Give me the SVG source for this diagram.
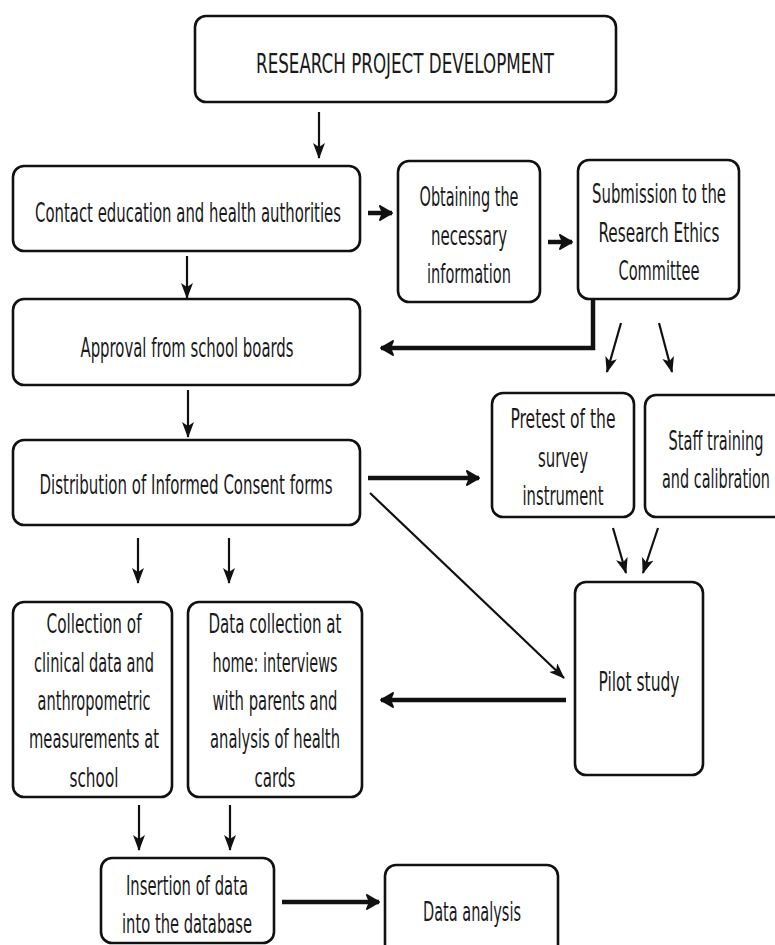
<svg xmlns="http://www.w3.org/2000/svg" width="775" height="945" viewBox="0 0 775 945">
<defs>
<style>
.box{fill:#fff;stroke:#111;stroke-width:2.6}
.t{font-family:"DejaVu Sans Condensed","DejaVu Sans","Liberation Sans",sans-serif;font-size:26px;fill:#1a1a1a;text-anchor:middle}
.thin{fill:none;stroke:#111;stroke-width:2.2}
.thick{fill:none;stroke:#111;stroke-width:4.5}
</style>
<marker id="ah" markerUnits="userSpaceOnUse" viewBox="0 0 16 12" refX="15" refY="6" markerWidth="16" markerHeight="12" orient="auto">
<path d="M0,0 L16,6 L0,12 L4,6 z" fill="#111"/>
</marker>
<marker id="ahb" markerUnits="userSpaceOnUse" viewBox="0 0 14 16" refX="13" refY="8" markerWidth="14" markerHeight="16" orient="auto">
<path d="M1,1 L13,8 L1,15 L4,8 z" fill="#111" stroke="#111" stroke-width="2" stroke-linejoin="round"/>
</marker>
</defs>
<rect width="775" height="945" fill="#fff"/>

<g id="connectors">
<line class="thin" x1="319" y1="112" x2="319" y2="158" marker-end="url(#ah)"/>
<line class="thick" x1="368" y1="213" x2="392" y2="213" marker-end="url(#ahb)"/>
<line class="thick" x1="548" y1="242" x2="572" y2="242" marker-end="url(#ahb)"/>
<line class="thin" x1="187" y1="256" x2="187" y2="298" marker-end="url(#ah)"/>
<path class="thick" d="M593,299 V348 H381" marker-end="url(#ahb)"/>
<line class="thin" x1="621" y1="323" x2="607" y2="372" marker-end="url(#ah)"/>
<line class="thin" x1="659" y1="323" x2="672" y2="372" marker-end="url(#ah)"/>
<line class="thin" x1="188" y1="390" x2="188" y2="437" marker-end="url(#ah)"/>
<line class="thick" x1="368" y1="478" x2="479" y2="478" marker-end="url(#ahb)"/>
<line class="thin" x1="370" y1="493" x2="564" y2="678" marker-end="url(#ah)" stroke-width="2.6"/>
<line class="thin" x1="613" y1="528" x2="626" y2="573" marker-end="url(#ah)"/>
<line class="thin" x1="658" y1="528" x2="643" y2="573" marker-end="url(#ah)"/>
<line class="thin" x1="138" y1="538" x2="138" y2="583" marker-end="url(#ah)"/>
<line class="thin" x1="229" y1="538" x2="229" y2="583" marker-end="url(#ah)"/>
<line class="thick" x1="566" y1="700" x2="381" y2="700" marker-end="url(#ahb)"/>
<line class="thin" x1="139" y1="805" x2="139" y2="850" marker-end="url(#ah)"/>
<line class="thin" x1="230" y1="805" x2="230" y2="850" marker-end="url(#ah)"/>
<line class="thick" x1="282" y1="902" x2="379" y2="902" marker-end="url(#ahb)"/>
</g>

<g id="n-research">
<rect class="box" x="195" y="16" width="421" height="86" rx="11"/>
<text class="t" x="405" y="73" textLength="298" lengthAdjust="spacingAndGlyphs">RESEARCH PROJECT DEVELOPMENT</text>
</g>
<g id="n-contact">
<rect class="box" x="13" y="166" width="347" height="85" rx="11"/>
<text class="t" x="188" y="222" textLength="306" lengthAdjust="spacingAndGlyphs">Contact education and health authorities</text>
</g>
<g id="n-obtaining">
<rect class="box" x="398" y="161" width="142" height="141" rx="11"/>
<text class="t" x="469" y="206" textLength="99" lengthAdjust="spacingAndGlyphs">Obtaining the</text>
<text class="t" x="469" y="245" textLength="76" lengthAdjust="spacingAndGlyphs">necessary</text>
<text class="t" x="469" y="283" textLength="84" lengthAdjust="spacingAndGlyphs">information</text>
</g>
<g id="n-submission">
<rect class="box" x="578" y="160" width="161" height="139" rx="11"/>
<text class="t" x="659" y="203" textLength="134" lengthAdjust="spacingAndGlyphs">Submission to the</text>
<text class="t" x="659" y="242" textLength="121" lengthAdjust="spacingAndGlyphs">Research Ethics</text>
<text class="t" x="659" y="280" textLength="81" lengthAdjust="spacingAndGlyphs">Committee</text>
</g>
<g id="n-approval">
<rect class="box" x="13" y="299" width="347" height="86" rx="11"/>
<text class="t" x="187" y="357" textLength="213" lengthAdjust="spacingAndGlyphs">Approval from school boards</text>
</g>
<g id="n-pretest">
<rect class="box" x="492" y="393" width="142" height="124" rx="11"/>
<text class="t" x="563" y="428" textLength="105" lengthAdjust="spacingAndGlyphs">Pretest of the</text>
<text class="t" x="563" y="467" textLength="50" lengthAdjust="spacingAndGlyphs">survey</text>
<text class="t" x="563" y="505" textLength="81" lengthAdjust="spacingAndGlyphs">instrument</text>
</g>
<g id="n-staff">
<rect class="box" x="645" y="395" width="145" height="122" rx="11"/>
<text class="t" x="716" y="450" textLength="95" lengthAdjust="spacingAndGlyphs">Staff training</text>
<text class="t" x="716" y="488" textLength="108" lengthAdjust="spacingAndGlyphs">and calibration</text>
</g>
<g id="n-distribution">
<rect class="box" x="13" y="440" width="347" height="85" rx="11"/>
<text class="t" x="186" y="494" textLength="293" lengthAdjust="spacingAndGlyphs">Distribution of Informed Consent forms</text>
</g>
<g id="n-collection">
<rect class="box" x="13" y="602" width="159" height="195" rx="11"/>
<text class="t" x="94" y="633" textLength="95" lengthAdjust="spacingAndGlyphs">Collection of</text>
<text class="t" x="94" y="672" textLength="120" lengthAdjust="spacingAndGlyphs">clinical data and</text>
<text class="t" x="94" y="710" textLength="113" lengthAdjust="spacingAndGlyphs">anthropometric</text>
<text class="t" x="94" y="748" textLength="130" lengthAdjust="spacingAndGlyphs">measurements at</text>
<text class="t" x="94" y="787" textLength="49" lengthAdjust="spacingAndGlyphs">school</text>
</g>
<g id="n-home">
<rect class="box" x="188" y="602" width="174" height="195" rx="11"/>
<text class="t" x="275" y="633" textLength="133" lengthAdjust="spacingAndGlyphs">Data collection at</text>
<text class="t" x="275" y="672" textLength="125" lengthAdjust="spacingAndGlyphs">home: interviews</text>
<text class="t" x="275" y="710" textLength="125" lengthAdjust="spacingAndGlyphs">with parents and</text>
<text class="t" x="275" y="748" textLength="130" lengthAdjust="spacingAndGlyphs">analysis of health</text>
<text class="t" x="275" y="787" textLength="41" lengthAdjust="spacingAndGlyphs">cards</text>
</g>
<g id="n-pilot">
<rect class="box" x="575" y="582" width="128" height="193" rx="11"/>
<text class="t" x="639" y="691" textLength="81" lengthAdjust="spacingAndGlyphs">Pilot study</text>
</g>
<g id="n-insertion">
<rect class="box" x="101" y="858" width="173" height="85" rx="11"/>
<text class="t" x="187" y="895" textLength="122" lengthAdjust="spacingAndGlyphs">Insertion of data</text>
<text class="t" x="187" y="933" textLength="130" lengthAdjust="spacingAndGlyphs">into the database</text>
</g>
<g id="n-analysis">
<rect class="box" x="385" y="865" width="173" height="100" rx="11"/>
<text class="t" x="472" y="921" textLength="98" lengthAdjust="spacingAndGlyphs">Data analysis</text>
</g>
</svg>
